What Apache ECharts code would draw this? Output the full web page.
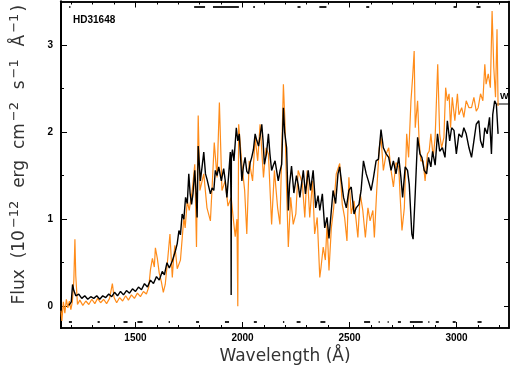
<!DOCTYPE html>
<html>
<head>
<meta charset="utf-8">
<script src="https://cdn.jsdelivr.net/npm/echarts@6/dist/echarts.min.js"></script>
<style>
  html, body { margin: 0; padding: 0; background: #fff; }
  #chart { width: 510px; height: 372px; }
</style>
</head>
<body>
<div id="chart"></div>
<script>
// wavelength axis limits and tick positions (Angstrom)
const xMin = 1152, xMax = 3245;
const yMin = -0.25, yMax = 3.5;
const xMajor = [1500, 2000, 2500, 3000];
const xMinor = [1200, 1300, 1400, 1600, 1700, 1800, 1900, 2100, 2200, 2300, 2400, 2600, 2700, 2800, 2900, 3100, 3200];
const yMajor = [0, 1, 2, 3];
const yMinor = [0.5, 1.5, 2.5];

// orange spectrum
const orangeWave = [1152, 1156, 1163, 1170, 1177, 1184, 1191, 1198, 1205, 1212, 1217, 1221, 1229, 1240, 1254, 1268, 1282, 1296, 1310, 1323,
  1337, 1351, 1365, 1379, 1392, 1400, 1412, 1426, 1440, 1454, 1467, 1481, 1495, 1509, 1523, 1537, 1551, 1562, 1570, 1579,
  1588, 1593, 1602, 1611, 1621, 1630, 1639, 1649, 1661, 1667, 1672, 1678, 1684, 1695, 1710, 1726, 1732, 1742, 1751, 1765,
  1777, 1785, 1793, 1801, 1819, 1834, 1850, 1858, 1868, 1881, 1892, 1904, 1919, 1932, 1947, 1958, 1966, 1974, 1978, 1982,
  1997, 2010, 2020, 2031, 2047, 2059, 2071, 2082, 2098, 2110, 2121, 2136, 2149, 2164, 2175, 2191, 2198, 2206, 2214, 2225,
  2237, 2249, 2260, 2271, 2280, 2291, 2302, 2314, 2327, 2337, 2349, 2361, 2367, 2377, 2387, 2395, 2404, 2415, 2426, 2438,
  2454, 2466, 2477, 2488, 2497, 2508, 2521, 2531, 2539, 2550, 2562, 2574, 2586, 2596, 2609, 2616, 2627, 2639, 2647, 2658,
  2671, 2683, 2694, 2705, 2717, 2730, 2736, 2745, 2756, 2767, 2776, 2787, 2795, 2802, 2807, 2818, 2825, 2833, 2844, 2853,
  2864, 2872, 2880, 2891, 2900, 2906, 2912, 2921, 2930, 2941, 2949, 2957, 2965, 2972, 2980, 2992, 3004, 3011, 3024, 3034,
  3045, 3058, 3070, 3081, 3092, 3101, 3112, 3123, 3132, 3138, 3148, 3158, 3166, 3174, 3182, 3189, 3194];
const orangeFlux = [-0.05, -0.17, 0.05, -0.08, 0.08, -0.02, 0.06, -0.04, 0.05, 0.30, 0.77, 0.35, 0.02, 0.07, 0.01, 0.06, 0.02, 0.08, 0.03, 0.09,
  0.04, 0.08, 0.03, 0.09, 0.26, 0.10, 0.04, 0.10, 0.06, 0.12, 0.07, 0.13, 0.09, 0.15, 0.11, 0.17, 0.14, 0.22, 0.42, 0.55,
  0.45, 0.67, 0.55, 0.38, 0.28, 0.16, 0.25, 0.50, 0.83, 0.55, 0.33, 0.55, 0.70, 0.43, 0.53, 1.02, 0.90, 1.21, 1.10, 1.33,
  1.63, 0.68, 2.19, 1.33, 1.52, 1.13, 0.98, 1.37, 1.88, 1.48, 2.34, 1.33, 1.44, 1.15, 1.25, 0.98, 0.80, 1.00, 0.00, 2.09,
  1.63, 1.33, 0.83, 1.67, 1.44, 1.94, 1.67, 2.09, 1.48, 1.82, 1.75, 0.94, 1.56, 1.13, 0.94, 2.55, 2.13, 1.33, 0.68, 1.25,
  0.94, 1.06, 1.56, 1.48, 1.40, 1.02, 1.56, 1.02, 1.44, 0.83, 1.02, 0.33, 0.45, 0.68, 0.53, 0.94, 0.41, 0.90, 1.13, 1.52,
  1.64, 1.17, 1.02, 0.75, 1.48, 1.06, 1.21, 0.98, 0.79, 1.29, 1.10, 0.79, 1.13, 0.98, 1.10, 0.79, 1.33, 1.82, 1.94, 1.56,
  1.75, 1.82, 1.56, 1.37, 1.65, 1.60, 1.28, 0.87, 1.13, 1.98, 1.71, 2.36, 2.64, 2.93, 2.05, 2.36, 1.90, 1.67, 1.67, 1.44,
  1.75, 1.78, 1.98, 1.71, 1.94, 2.36, 2.78, 1.98, 1.82, 1.94, 2.51, 2.36, 2.44, 2.05, 2.40, 2.13, 2.44, 2.20, 2.28, 2.17,
  2.36, 2.28, 2.28, 2.40, 2.24, 2.28, 2.44, 2.36, 2.78, 2.55, 2.67, 2.51, 3.39, 2.74, 2.40, 3.18, 2.30];

// black spectrum
const blackWave = [1189, 1200, 1206, 1212, 1221, 1235, 1249, 1263, 1277, 1291, 1305, 1319, 1333, 1347, 1361, 1375, 1389, 1402, 1416, 1430,
  1444, 1458, 1472, 1486, 1500, 1514, 1528, 1542, 1556, 1570, 1584, 1598, 1611, 1625, 1635, 1647, 1658, 1672, 1687, 1695,
  1703, 1710, 1718, 1726, 1734, 1742, 1749, 1755, 1762, 1769, 1777, 1783, 1788, 1793, 1799, 1803, 1811, 1819, 1827, 1834,
  1839, 1850, 1858, 1866, 1873, 1881, 1889, 1901, 1912, 1919, 1927, 1935, 1943, 1946, 1947, 1948, 1953, 1960, 1971, 1978,
  1985, 1997, 2004, 2012, 2020, 2028, 2036, 2043, 2051, 2059, 2067, 2075, 2082, 2090, 2096, 2102, 2112, 2121, 2128, 2136,
  2144, 2152, 2160, 2167, 2175, 2183, 2191, 2197, 2206, 2214, 2220, 2229, 2240, 2252, 2260, 2268, 2284, 2294, 2307, 2318,
  2330, 2342, 2353, 2361, 2373, 2384, 2395, 2404, 2415, 2423, 2435, 2446, 2454, 2462, 2472, 2485, 2497, 2508, 2521, 2531,
  2544, 2554, 2565, 2578, 2588, 2601, 2612, 2624, 2635, 2647, 2658, 2671, 2683, 2694, 2705, 2717, 2730, 2740, 2748, 2760,
  2771, 2779, 2791, 2797, 2807, 2818, 2829, 2838, 2849, 2860, 2869, 2880, 2888, 2900, 2911, 2921, 2934, 2946, 2957, 2968,
  2977, 2988, 2999, 3011, 3024, 3034, 3045, 3058, 3070, 3081, 3092, 3104, 3112, 3123, 3132, 3143, 3154, 3163, 3169, 3178,
  3186, 3194];
const blackFlux = [0.01, 0.05, 0.25, 0.18, 0.12, 0.14, 0.09, 0.12, 0.08, 0.11, 0.09, 0.12, 0.08, 0.12, 0.10, 0.14, 0.11, 0.16, 0.12, 0.17,
  0.13, 0.18, 0.15, 0.20, 0.17, 0.22, 0.19, 0.26, 0.22, 0.30, 0.26, 0.34, 0.30, 0.40, 0.36, 0.50, 0.44, 0.52, 0.64, 0.72,
  0.87, 0.82, 1.06, 1.00, 1.25, 1.18, 1.52, 1.30, 1.17, 1.30, 1.56, 1.30, 1.02, 1.84, 1.60, 1.44, 1.60, 1.77, 1.52, 1.46,
  1.44, 1.29, 1.36, 1.33, 1.56, 1.50, 1.60, 1.44, 1.58, 1.45, 1.25, 1.50, 1.77, 1.25, 0.13, 1.70, 1.80, 1.67, 2.05, 1.90,
  1.98, 1.44, 1.60, 1.71, 1.55, 1.52, 1.65, 1.71, 1.80, 1.98, 1.90, 1.84, 1.95, 2.09, 1.90, 1.63, 1.75, 1.98, 1.75, 1.56,
  1.62, 1.67, 1.55, 1.44, 1.55, 1.63, 2.28, 2.00, 1.82, 1.10, 1.40, 1.61, 1.30, 1.50, 1.40, 1.25, 1.56, 1.29, 1.56, 1.33,
  1.56, 1.13, 1.27, 1.10, 1.29, 0.90, 1.02, 0.78, 1.10, 1.33, 1.18, 1.52, 1.60, 1.44, 1.25, 1.13, 1.33, 1.37, 1.06, 1.13,
  1.17, 1.33, 1.67, 1.52, 1.44, 1.33, 1.48, 1.67, 1.69, 2.03, 1.82, 1.75, 1.71, 1.56, 1.67, 1.52, 1.71, 1.48, 1.25, 1.60,
  1.56, 1.40, 0.83, 0.77, 1.30, 1.94, 1.75, 1.71, 1.56, 1.52, 1.71, 1.60, 1.78, 1.62, 1.98, 1.78, 1.82, 1.71, 2.13, 1.90,
  2.05, 2.02, 1.75, 1.98, 1.94, 2.05, 1.98, 1.82, 1.71, 1.90, 2.09, 2.13, 1.90, 1.82, 2.05, 1.98, 2.17, 1.75, 2.20, 2.36,
  2.32, 1.98];

// flagged wavelength ranges drawn as dashes near the top and bottom of the frame
const flagTopLevel = 3.44, flagBottomLevel = -0.18;
const topFlags = [[1190, 1196], [1774, 1825], [1862, 1983], [2050, 2058], [2257, 2271], [2359, 2392], [2578, 2592], [2986, 3000], [3093, 3112]];
const bottomFlags = [[1189, 1203], [1323, 1333], [1444, 1463], [1509, 1533], [1655, 1661], [1783, 1797], [1918, 1937], [2053, 2067],
  [2189, 2195], [2253, 2271], [2364, 2387], [2568, 2596], [2636, 2641], [2678, 2683], [2726, 2740], [2782, 2842], [2868, 2873],
  [2903, 2917], [2982, 2996], [3098, 3117]];

const pairs = (xs, ys) => xs.map((x, i) => [x, ys[i]]);
const flagLines = (ranges, level) => ranges.map(r => ({ coords: [[r[0], level], [r[1], level]] }));

const font = 'Liberation Sans';
const tickLabel = { color: '#000', fontFamily: font, fontWeight: 'bold', fontSize: 10, formatter: v => String(v) };

function xAxisDef(pos, ticks, len, labels) {
  return {
    type: 'value', min: xMin, max: xMax, position: pos,
    axisLine: { show: true, onZero: false, lineStyle: { color: '#000', width: 1.5 } },
    axisTick: { inside: true, length: len, customValues: ticks, lineStyle: { color: '#000', width: 1 } },
    axisLabel: labels ? Object.assign({ customValues: ticks, margin: 5 }, tickLabel) : { show: false },
    splitLine: { show: false }
  };
}
function yAxisDef(pos, ticks, len, labels) {
  return {
    type: 'value', min: yMin, max: yMax, position: pos,
    axisLine: { show: true, onZero: false, lineStyle: { color: '#000', width: pos === 'left' ? 2 : 1.5 } },
    axisTick: { inside: true, length: len, customValues: ticks, lineStyle: { color: '#000', width: 1 } },
    axisLabel: labels ? Object.assign({ customValues: ticks, margin: 8 }, tickLabel) : { show: false },
    splitLine: { show: false }
  };
}

const xMain = xAxisDef('bottom', xMajor, 6, true);
xMain.name = 'Wavelength (Å)';
xMain.nameLocation = 'middle';
xMain.nameGap = 14;
xMain.nameTextStyle = { fontFamily: 'DejaVu Sans', fontSize: 17, color: '#333' };

const yMain = yAxisDef('left', yMajor, 6, true);
yMain.name = '{b|Flux  (10}{s|−12}{b|  erg  cm}{s|−2}{b|  s}{s|−1}{b|  Å}{s|−1}{b|)}';
yMain.nameLocation = 'middle';
yMain.nameRotate = 90;
yMain.nameGap = 30;
yMain.nameTextStyle = {
  padding: [0, 0, 0, 20],
  rich: {
    b: { fontFamily: 'DejaVu Sans', fontSize: 17, color: '#333' },
    s: { fontFamily: 'DejaVu Sans', fontSize: 13, color: '#333', verticalAlign: 'top', padding: [0, 2, 10, 2] }
  }
};

const chart = echarts.init(document.getElementById('chart'));
chart.setOption({
  animation: false,
  grid: { left: 58, top: 1.5, width: 451, height: 326.5, containLabel: false },
  xAxis: [
    xMain,
    xAxisDef('bottom', xMinor, 3, false),
    xAxisDef('top', xMajor, 6, false),
    xAxisDef('top', xMinor, 3, false)
  ],
  yAxis: [
    yMain,
    yAxisDef('left', yMinor, 3, false),
    yAxisDef('right', yMajor, 5, false),
    yAxisDef('right', yMinor, 3, false)
  ],
  graphic: [
    { type: 'text', left: 73, top: 15, style: { text: 'HD31648', font: 'bold 10px "Liberation Sans"', fill: '#000' } },
    { type: 'text', left: 500, top: 92, style: { text: 'W', font: 'bold 9px "Liberation Sans"', fill: '#000' } },
    { type: 'line', shape: { x1: 497, y1: 104, x2: 510, y2: 104 }, style: { stroke: '#000', lineWidth: 1 } }
  ],
  series: [
    {
      name: 'orange', type: 'line', data: pairs(orangeWave, orangeFlux),
      showSymbol: false, lineStyle: { color: '#ff8c1a', width: 1.2 }, z: 2
    },
    {
      name: 'black', type: 'line', data: pairs(blackWave, blackFlux),
      showSymbol: false, lineStyle: { color: '#000', width: 1.4 }, z: 3
    },
    {
      type: 'lines', coordinateSystem: 'cartesian2d', data: flagLines(topFlags, flagTopLevel),
      lineStyle: { color: '#222', width: 2, opacity: 1 }, z: 4
    },
    {
      type: 'lines', coordinateSystem: 'cartesian2d', data: flagLines(bottomFlags, flagBottomLevel),
      lineStyle: { color: '#222', width: 2, opacity: 1 }, z: 4
    }
  ]
});
</script>
</body>
</html>
